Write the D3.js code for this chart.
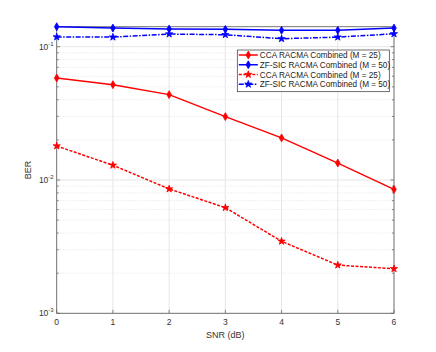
<!DOCTYPE html>
<html>
<head>
<meta charset="utf-8">
<script src="https://cdn.jsdelivr.net/npm/d3@7"></script>
<style>
  body { margin: 0; background: #fff; }
  text { font-family: "Liberation Sans", Arial, sans-serif; }
</style>
</head>
<body>
<div id="chart"></div>
<script>
// data
var snr = [0, 1, 2, 3, 4, 5, 6];
var ccaSolid = [0.0582, 0.0519, 0.0437, 0.0299, 0.0207, 0.0134, 0.0085];
var zfSolid = [0.1413, 0.138, 0.1358, 0.135, 0.1327, 0.1327, 0.138];
var ccaStar = [0.018, 0.0129, 0.00857, 0.0062, 0.00347, 0.0023, 0.00216];
var zfStar = [0.1183, 0.118, 0.1245, 0.123, 0.1148, 0.118, 0.125];
var legendLabels = [
  "CCA RACMA Combined (M = 25)",
  "ZF-SIC RACMA Combined (M = 50)",
  "CCA RACMA Combined (M = 25)",
  "ZF-SIC RACMA Combined (M = 50)"
];
var yTickExps = [-3, -2, -1];

var svgWidth = 436;
var svgHeight = 352;
var margin = { top: 26.7, right: 42, bottom: 38.7, left: 56.7 };
var chartWidth = svgWidth - margin.left - margin.right;
var chartHeight = svgHeight - margin.top - margin.bottom;

var svg = d3.select("#chart")
  .append("svg")
  .attr("width", svgWidth)
  .attr("height", svgHeight);

var g = svg.append("g")
  .attr("transform", `translate(${margin.left}, ${margin.top})`);

var x = d3.scaleLinear().domain([0, 6]).range([0, chartWidth]);
var y = d3.scaleLog().domain([1e-3, 0.1413]).range([chartHeight, 0]);

// minor grid (dotted)
var minorVals = [];
[1e-3, 1e-2, 1e-1].forEach(function(d) {
  for (var k = 2; k <= 9; k++) {
    if (d * k <= 0.1413) minorVals.push(d * k);
  }
});
g.append("g").selectAll("line")
  .data(minorVals)
  .enter().append("line")
  .attr("x1", 0).attr("x2", chartWidth)
  .attr("y1", d => y(d)).attr("y2", d => y(d))
  .attr("stroke", "#d8d8d8")
  .attr("stroke-width", 0.8)
  .attr("stroke-dasharray", "1,2");

// major grid
g.append("g").selectAll("line")
  .data(snr)
  .enter().append("line")
  .attr("x1", d => x(d)).attr("x2", d => x(d))
  .attr("y1", 0).attr("y2", chartHeight)
  .attr("stroke", "#e6e6e6");
g.append("g").selectAll("line")
  .data(yTickExps)
  .enter().append("line")
  .attr("x1", 0).attr("x2", chartWidth)
  .attr("y1", d => y(Math.pow(10, d))).attr("y2", d => y(Math.pow(10, d)))
  .attr("stroke", "#e6e6e6");

// ticks (inward, on all sides)
var tickColor = "#6a6a6a";
var ticks = g.append("g").attr("stroke", tickColor).attr("stroke-width", 0.8);
snr.forEach(function(d) {
  ticks.append("line").attr("x1", x(d)).attr("x2", x(d)).attr("y1", chartHeight).attr("y2", chartHeight - 3.5);
  ticks.append("line").attr("x1", x(d)).attr("x2", x(d)).attr("y1", 0).attr("y2", 3.5);
});
yTickExps.forEach(function(e) {
  var yy = y(Math.pow(10, e));
  ticks.append("line").attr("x1", 0).attr("x2", 3.5).attr("y1", yy).attr("y2", yy);
  ticks.append("line").attr("x1", chartWidth).attr("x2", chartWidth - 3.5).attr("y1", yy).attr("y2", yy);
});
minorVals.forEach(function(d) {
  ticks.append("line").attr("x1", 0).attr("x2", 2).attr("y1", y(d)).attr("y2", y(d));
  ticks.append("line").attr("x1", chartWidth).attr("x2", chartWidth - 2).attr("y1", y(d)).attr("y2", y(d));
});

// box
g.append("rect")
  .attr("width", chartWidth).attr("height", chartHeight)
  .attr("fill", "none")
  .attr("stroke", tickColor)
  .attr("stroke-width", 0.9);

// x tick labels
g.append("g").selectAll("text")
  .data(snr)
  .enter().append("text")
  .attr("x", d => x(d))
  .attr("y", chartHeight + 12)
  .attr("text-anchor", "middle")
  .attr("font-size", 8.5)
  .attr("fill", "#333")
  .text(d => d);

// y tick labels with superscripts
yTickExps.forEach(function(e) {
  var t = g.append("text")
    .attr("x", -3)
    .attr("y", y(Math.pow(10, e)) + 3)
    .attr("text-anchor", "end")
    .attr("font-size", 8.5)
    .attr("fill", "#333");
  t.append("tspan").text("10");
  t.append("tspan").attr("dy", -4).attr("font-size", 6).text(e);
});

// axis labels
g.append("text")
  .attr("x", chartWidth / 2)
  .attr("y", chartHeight + 25)
  .attr("text-anchor", "middle")
  .attr("font-size", 9)
  .attr("fill", "#333")
  .text("SNR (dB)");
g.append("text")
  .attr("transform", `translate(${-26}, ${chartHeight / 2}) rotate(-90)`)
  .attr("text-anchor", "middle")
  .attr("font-size", 9)
  .attr("fill", "#333")
  .text("BER");

// series
var series = [
  { values: ccaSolid, color: "#ff0000", dash: null, marker: "diamond" },
  { values: zfSolid, color: "#0000ff", dash: null, marker: "diamond" },
  { values: ccaStar, color: "#ff0000", dash: "3,1.5", marker: "star" },
  { values: zfStar, color: "#0000ff", dash: "5,1.5,1.5,1.5", marker: "star" }
];

var line = d3.line()
  .x((d, i) => x(snr[i]))
  .y(d => y(d));

function markerPath(type) {
  return type === "diamond"
    ? d3.symbol().type(d3.symbolDiamond).size(18)()
    : d3.symbol().type(d3.symbolStar).size(16)();
}

series.forEach(function(s) {
  g.append("path")
    .datum(s.values)
    .attr("d", line)
    .attr("fill", "none")
    .attr("stroke", s.color)
    .attr("stroke-width", 1.5)
    .attr("stroke-dasharray", s.dash);
  g.append("g").selectAll("path")
    .data(s.values)
    .enter().append("path")
    .attr("transform", (d, i) => `translate(${x(snr[i])}, ${y(d)})`)
    .attr("d", markerPath(s.marker))
    .attr("fill", s.color)
    .attr("stroke", s.color)
    .attr("stroke-width", 0.8);
});

// legend
var lx = 237.3 - margin.left;
var ly = 50 - margin.top;
var legend = g.append("g").attr("transform", `translate(${lx}, ${ly})`);
legend.append("rect")
  .attr("width", 152).attr("height", 41.7)
  .attr("fill", "#fff")
  .attr("stroke", "#333")
  .attr("stroke-width", 0.7);
series.forEach(function(s, i) {
  var ry = 5 + i * 9.75;
  legend.append("line")
    .attr("x1", 1.5).attr("x2", 20.5)
    .attr("y1", ry).attr("y2", ry)
    .attr("stroke", s.color)
    .attr("stroke-width", 1.5)
    .attr("stroke-dasharray", s.dash);
  legend.append("path")
    .attr("transform", `translate(11, ${ry})`)
    .attr("d", markerPath(s.marker))
    .attr("fill", s.color)
    .attr("stroke", s.color)
    .attr("stroke-width", 0.8);
  legend.append("text")
    .attr("x", 22.5)
    .attr("y", ry + 3)
    .attr("font-size", 8.2)
    .attr("fill", "#222")
    .text(legendLabels[i]);
});
</script>
</body>
</html>
